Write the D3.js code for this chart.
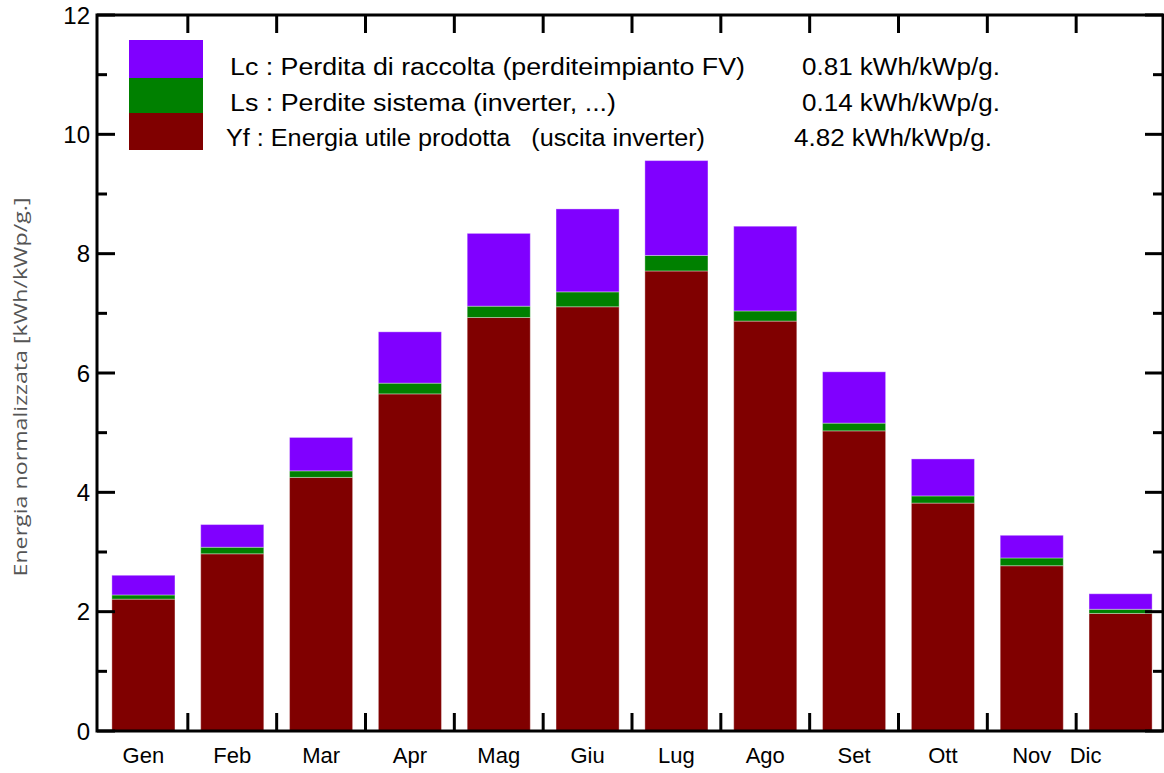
<!DOCTYPE html>
<html>
<head>
<meta charset="utf-8">
<script src="https://cdn.jsdelivr.net/npm/d3@7/dist/d3.min.js"></script>
<style>
  html, body { margin: 0; padding: 0; background: #fff; }
  svg { display: block; }
</style>
</head>
<body>
<svg id="chart" width="1164" height="773"></svg>
<script>
const months = ["Gen","Feb","Mar","Apr","Mag","Giu","Lug","Ago","Set","Ott","Nov","Dic"];
const yf = [2.21, 2.97, 4.25, 5.65, 6.93, 7.11, 7.71, 6.87, 5.03, 3.82, 2.77, 1.97];
const ls = [0.07, 0.11, 0.11, 0.18, 0.19, 0.25, 0.26, 0.17, 0.13, 0.12, 0.13, 0.07];
const lc = [0.33, 0.38, 0.56, 0.86, 1.22, 1.39, 1.59, 1.42, 0.86, 0.62, 0.38, 0.26];
const yTicks = [0, 2, 4, 6, 8, 10, 12];
const yMinorTicks = [1, 3, 5, 7, 9, 11];
const seriesKeys = ["Yf", "Ls", "Lc"];
const seriesColors = { Yf: "#800000", Ls: "#008000", Lc: "#8000ff" };
const legendLabels = [
  { key: "Lc", text: "Lc : Perdita di raccolta (perditeimpianto FV)", value: "0.81 kWh/kWp/g." },
  { key: "Ls", text: "Ls : Perdite sistema (inverter, ...)", value: "0.14 kWh/kWp/g." },
  { key: "Yf", text: "Yf : Energia utile prodotta   (uscita inverter)", value: "4.82 kWh/kWp/g." }
];
const yTitle = "Energia normalizzata [kWh/kWp/g.]";

const svg = d3.select("#chart");
const pLeft = 97, pRight = 1163, pTop = 15, pBottom = 731;

const x = d3.scaleBand().domain(months).range([99, 1165]).paddingInner(0.29).paddingOuter(0.145);
const y = d3.scaleLinear().domain([0, 12]).range([pBottom, pTop]);

const table = months.map((m, i) => ({ month: m, Yf: yf[i], Ls: ls[i], Lc: lc[i] }));
const stacked = d3.stack().keys(seriesKeys)(table);

// bars
svg.append("g").selectAll("g").data(stacked).join("g")
  .attr("fill", d => seriesColors[d.key])
  .selectAll("rect").data(d => d).join("rect")
  .attr("x", d => x(d.data.month))
  .attr("width", x.bandwidth())
  .attr("y", d => y(d[1]))
  .attr("height", d => y(d[0]) - y(d[1]))
  .attr("stroke", "rgba(255,255,255,0.35)")
  .attr("stroke-width", 1);

// frame
const frame = svg.append("g").attr("stroke", "#000").attr("stroke-width", 3).attr("fill", "none");
frame.append("rect").attr("x", pLeft).attr("y", pTop).attr("width", pRight - pLeft).attr("height", pBottom - pTop);

// y ticks (left & right, inward)
const tk = svg.append("g").attr("stroke", "#000").attr("stroke-width", 3);
yTicks.forEach(v => {
  tk.append("line").attr("x1", pLeft).attr("x2", pLeft + 18).attr("y1", y(v)).attr("y2", y(v));
  tk.append("line").attr("x1", pRight).attr("x2", pRight - 18).attr("y1", y(v)).attr("y2", y(v));
});
yMinorTicks.forEach(v => {
  tk.append("line").attr("x1", pLeft).attr("x2", pLeft + 10).attr("y1", y(v)).attr("y2", y(v));
  tk.append("line").attr("x1", pRight).attr("x2", pRight - 10).attr("y1", y(v)).attr("y2", y(v));
});
// x ticks at band boundaries (top & bottom)
const step = x.step();
months.slice(1).forEach(m => {
  const bx = x(m) - (step - x.bandwidth()) / 2;
  tk.append("line").attr("x1", bx).attr("x2", bx).attr("y1", pBottom).attr("y2", pBottom - 18);
  tk.append("line").attr("x1", bx).attr("x2", bx).attr("y1", pTop).attr("y2", pTop + 18);
});

// y tick labels
svg.append("g").selectAll("text").data(yTicks).join("text")
  .attr("x", 90).attr("y", d => y(d)).attr("dy", "0.36em")
  .attr("text-anchor", "end")
  .attr("font-family", "'Liberation Sans', Arial, sans-serif")
  .attr("font-size", 24).attr("fill", "#000")
  .text(d => d);

// x labels
svg.append("g").selectAll("text").data(months).join("text")
  .attr("x", (d, i) => x(d) + x.bandwidth() / 2 + (i === months.length - 1 ? -35 : 0))
  .attr("y", 763)
  .attr("text-anchor", "middle")
  .attr("font-family", "'Liberation Sans', Arial, sans-serif")
  .attr("font-size", 22).attr("fill", "#000")
  .text(d => d);

// y title
svg.append("text")
  .attr("transform", "translate(27,387) rotate(-90)")
  .attr("text-anchor", "middle")
  .attr("font-family", "'Open Sans', 'Noto Sans', sans-serif")
  .attr("font-size", 18).attr("fill", "#555")
  .attr("textLength", 379).attr("lengthAdjust", "spacingAndGlyphs")
  .text(yTitle);

// legend
const swatchTop = 40, swatchH = [38, 35, 37];
let sy = swatchTop;
const textWidths = [515, 386, 479];
const textX = [230, 230, 226];
const valueX = [802, 802, 794];
const baselines = [75, 111, 146];
legendLabels.forEach((l, i) => {
  svg.append("rect").attr("x", 129).attr("y", sy).attr("width", 74).attr("height", swatchH[i])
    .attr("fill", seriesColors[l.key]);
  sy += swatchH[i];
  svg.append("text").attr("x", textX[i]).attr("y", baselines[i])
    .attr("font-family", "'Liberation Sans', Arial, sans-serif")
    .attr("font-size", 23).attr("fill", "#000")
    .attr("textLength", textWidths[i]).attr("lengthAdjust", "spacingAndGlyphs")
    .style("white-space", "pre")
    .text(l.text);
  svg.append("text").attr("x", valueX[i]).attr("y", baselines[i])
    .attr("font-family", "'Liberation Sans', Arial, sans-serif")
    .attr("font-size", 23).attr("fill", "#000")
    .attr("textLength", 198).attr("lengthAdjust", "spacingAndGlyphs")
    .text(l.value);
});
</script>
</body>
</html>
